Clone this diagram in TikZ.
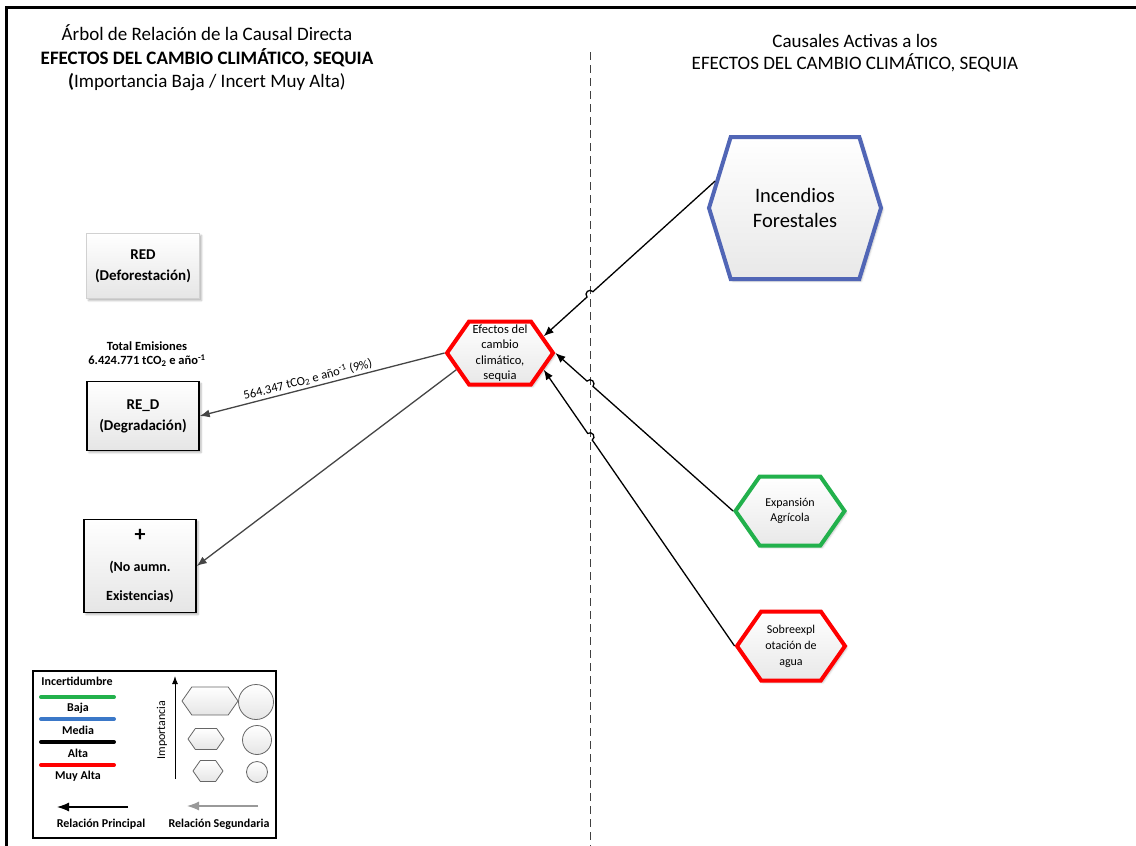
\documentclass[tikz,border=0pt]{standalone}
\usepackage{fontspec}
\setmainfont{Carlito}
\definecolor{arbolRojo}{HTML}{FF0000}
\definecolor{arbolVerde}{HTML}{22B14C}
\definecolor{arbolAzul}{HTML}{5166B6}
\definecolor{arbolAzulClaro}{HTML}{3B78C8}
\definecolor{arbolGris}{HTML}{454545}
\usetikzlibrary{
	arrows.meta,
	positioning,
	calc,
	intersections,
	shapes.symbols,
	shadows.blur
}
\tikzset{
	cajaRama/.style={
		rectangle,
		draw=black,
		line width=1.4pt,
		top color=white,
		bottom color=black!10,
		align=center,
		inner sep=3pt,
		font=\bfseries\fontsize{15}{21}\selectfont,
		blur shadow={shadow xshift=2pt, shadow yshift=-2pt, shadow blur steps=4, shadow opacity=30}
	},
	cajaRamaInactiva/.style={
		cajaRama,
		draw=black!18
	},
	hexCausa/.style={
		signal,
		signal to=east and west,
		signal pointer angle=110,
		line width=4pt,
		top color=white,
		bottom color=black!9,
		align=center,
		inner sep=0pt,
		font=\fontsize{12.5}{15.5}\selectfont,
		blur shadow={shadow xshift=2pt, shadow yshift=-2pt, shadow blur steps=4, shadow opacity=25}
	},
	hexLeyenda/.style={
		signal,
		signal to=east and west,
		signal pointer angle=110,
		draw=black!60,
		line width=0.8pt,
		top color=white,
		bottom color=black!10,
		inner sep=0pt
	},
	circLeyenda/.style={
		circle,
		draw=black!60,
		line width=0.8pt,
		top color=white,
		bottom color=black!10,
		inner sep=0pt
	},
	flechaCausa/.style={
		-{Latex[length=10pt, width=8pt]},
		line width=1.3pt,
		draw=black
	},
	flechaEfecto/.style={
		-{Latex[length=10pt, width=8pt]},
		line width=1.3pt,
		draw=arbolGris
	},
	notaEmision/.style={
		align=center,
		inner sep=1pt,
		font=\bfseries\fontsize{12.5}{14}\selectfont
	},
	textoLeyenda/.style={
		inner sep=0pt,
		font=\bfseries\fontsize{12}{13}\selectfont
	},
	lineaLeyenda/.style={
		line width=4pt,
		line cap=round
	}
}

\begin{document}
\begin{tikzpicture}[x=1pt, y=-1pt]
	\useasboundingbox (0,0) rectangle (1136,846);
	\draw[line width=3pt] (6,846) -- (6,7) -- (1136,7);
	% titulos
	\node[align=center, font=\fontsize{19}{23.5}\selectfont] (tituloIzq) at (207,58) {
		Árbol de Relación de la Causal Directa\\
		\textbf{EFECTOS DEL CAMBIO CLIMÁTICO, SEQUIA}\\
		\textbf{(}Importancia Baja / Incert Muy Alta)
	};
	\node[align=center, font=\fontsize{19}{21.5}\selectfont] (tituloDer) at (855,53) {
		Causales Activas a los\\
		EFECTOS DEL CAMBIO CLIMÁTICO, SEQUIA
	};
	\coordinate (divArriba) at (590,52);
	\coordinate (divAbajo) at (590,846);
	\draw[dashed, dash pattern=on 8pt off 5pt, line width=1pt, black!75, name path=divisoria] (divArriba) -- (divAbajo);
	% ramas
	\node[cajaRamaInactiva, minimum width=113pt, minimum height=65pt] (red) at (143,266) {RED\\(Deforestación)};
	\node[notaEmision] (totalEmis) at (147,354) {Total Emisiones\\6.424.771 tCO\textsubscript{2} e año\textsuperscript{-1}};
	\node[cajaRama, minimum width=112pt, minimum height=69pt] (reD) at (143,416) {RE\_D\\(Degradación)};
	\node[cajaRama, minimum width=112pt, minimum height=93pt, font=\bfseries\fontsize{14}{29.5}\selectfont] (noAumn) at (140,566) {{\fontsize{22}{22}\selectfont +}\\(No aumn.\\Existencias)};
	% causales
	\node[hexCausa, draw=arbolRojo, minimum width=106pt, minimum height=63pt] (hexEfecto) at (500,353) {Efectos del\\cambio\\climático,\\sequia};
	\node[hexCausa, draw=arbolAzul, signal pointer angle=146, minimum width=172pt, minimum height=142pt, font=\fontsize{20.5}{25}\selectfont] (hexIncendios) at (795,208) {Incendios\\Forestales};
	\node[hexCausa, draw=arbolVerde, minimum width=109pt, minimum height=69pt, font=\fontsize{12}{15.5}\selectfont] (hexExpansion) at (790,511) {Expansión\\Agrícola};
	\node[hexCausa, draw=arbolRojo, minimum width=108pt, minimum height=69pt, font=\fontsize{12}{16}\selectfont] (hexSobre) at (791,646) {Sobreexpl\\otación de\\agua};
	% conectores
	\coordinate (salIncendios) at ($(hexIncendios.west)!0.37!(hexIncendios.north west)$);
	\coordinate (llegIncendios) at ($(hexEfecto.north east)!0.5!(hexEfecto.east)$);
	\coordinate (llegSobre) at ($(hexEfecto.east)!0.5!(hexEfecto.south east)$);
	\coordinate (salEfecto) at ($(hexEfecto.west)!0.5!(hexEfecto.south west)$);
	\foreach \desde/\hasta in {salIncendios/llegIncendios, hexExpansion.west/hexEfecto.east, hexSobre.west/llegSobre}{
		\path[name path=conector] (\desde) -- (\hasta);
		\path[name intersections={of=conector and divisoria, by=cruce}];
		\draw[flechaCausa] let \p1=($(\desde)-(cruce)$), \n1={atan2(\y1,\x1)} in
			(\desde) -- ($(cruce)+(\n1:4pt)$) arc[start angle=\n1, delta angle=180, radius=4pt] -- (\hasta);
	}
	\draw[flechaEfecto] (hexEfecto.west) -- node[pos=0.55, sloped, above, inner sep=2pt, font=\fontsize{12.5}{13}\selectfont] {564.347 tCO\textsubscript{2} e año\textsuperscript{-1} (9\%)} (reD.east);
	\draw[flechaEfecto] (salEfecto) -- (noAumn.east);
	% leyenda
	\node[draw=black, line width=1.2pt, minimum width=243pt, minimum height=167pt] (leyenda) at (154.5,754.5) {};
	\node[textoLeyenda] at (77,681) {Incertidumbre};
	\foreach \y/\col/\lab in {697/arbolVerde/Baja, 719/arbolAzulClaro/Media, 742/black/Alta, 765/arbolRojo/Muy Alta}{
		\draw[lineaLeyenda, draw=\col] (41,\y) -- (114,\y);
		\node[textoLeyenda] at (78,\y+11) {\lab};
	}
	\draw[-{Latex[length=8pt, width=6pt]}, line width=1pt] (175,779) -- (175,676);
	\node[textoLeyenda, font=\fontsize{12}{13}\selectfont, rotate=90] at (162,730) {Importancia};
	\node[hexLeyenda, minimum width=56pt, minimum height=28pt] (hexGrande) at (210,701) {};
	\node[circLeyenda, minimum size=35pt] (circGrande) at (256,702) {};
	\node[hexLeyenda, minimum width=36pt, minimum height=21pt] (hexMedio) at (206,739) {};
	\node[circLeyenda, minimum size=29pt] (circMedio) at (257,740) {};
	\node[hexLeyenda, minimum width=30pt, minimum height=21pt] (hexChico) at (208,771) {};
	\node[circLeyenda, minimum size=21pt] (circChico) at (257,772) {};
	\draw[-{Latex[length=12pt, width=9pt]}, line width=1.2pt] (128,807) -- (57,807);
	\draw[-{Latex[length=12pt, width=9pt]}, line width=1.2pt, black!40] (258,806) -- (187,806);
	\node[textoLeyenda] at (101,824) {Relación Principal};
	\node[textoLeyenda] at (219,824) {Relación Segundaria};
\end{tikzpicture}
\end{document}
